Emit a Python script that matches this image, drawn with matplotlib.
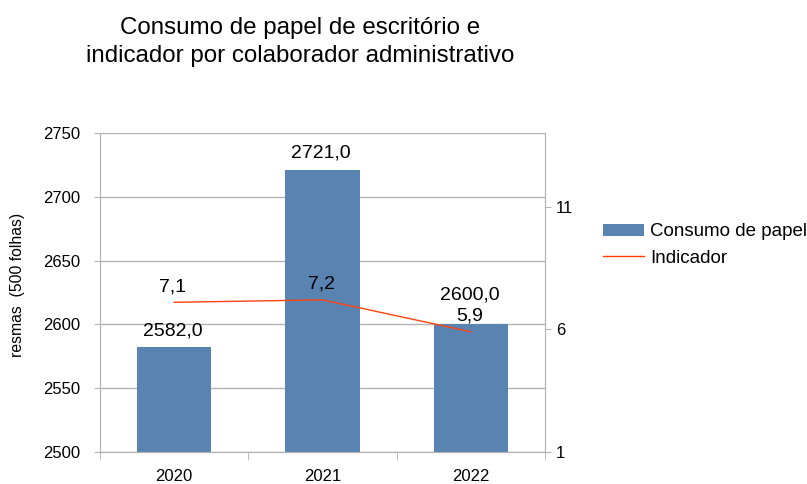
import matplotlib
matplotlib.use("Agg")
import matplotlib.pyplot as plt
import numpy as np

plt.rcParams['font.family'] = ['Liberation Sans', 'DejaVu Sans']

anos = ['2020', '2021', '2022']
consumo = [2582.0, 2721.0, 2600.0]
indicador = [7.1, 7.2, 5.9]

cor_barra = '#5983b0'
cor_linha = '#ff420e'
cinza = '#b3b3b3'

fig = plt.figure(figsize=(8.07, 4.84), dpi=100)
ax = fig.add_axes([100 / 807, 1 - 452 / 484, 445 / 807, 319 / 484])
x = np.arange(len(anos))

ax.bar(x, consumo, width=0.5, color=cor_barra, zorder=2, label='Consumo de papel')
ax.set_xlim(-0.5, 2.5)
ax.set_ylim(2500, 2750)
ax.set_yticks(np.arange(2500, 2751, 50))
ax.yaxis.grid(True, color=cinza, linewidth=1, zorder=0)
ax.set_xticks(x)
ax.set_xticklabels(anos)
ax.set_xticks([-0.5, 0.5, 1.5, 2.5], minor=True)
ax.tick_params(axis='x', which='major', length=0, labelsize=12, pad=12.5)
ax.tick_params(axis='x', which='minor', length=6, color=cinza)
ax.tick_params(axis='y', length=4.3, color=cinza, labelsize=12, pad=10)
for s in ['left', 'bottom', 'right']:
    ax.spines[s].set_color(cinza)
ax.spines['top'].set_visible(False)
fig.text(18 / 807, 1 - 285 / 484, 'resmas  (500 folhas)', rotation=90,
         ha='center', va='center', fontsize=11.3)

# deslocamento dos rótulos das barras (pontos)
desloc_barra = [6, 6, 15]
for xi, v, d in zip(x, consumo, desloc_barra):
    ax.annotate(f'{v:.1f}'.replace('.', ','), (xi, v), xytext=(-1, d),
                textcoords='offset points', ha='center', va='bottom', fontsize=14)

ax2 = ax.twinx()
ax2.plot(x, indicador, color=cor_linha, linewidth=1, label='Indicador')
ax2.set_ylim(1, 14)
ax2.set_yticks([1, 6, 11])
ax2.tick_params(axis='y', length=4.3, color=cinza, labelsize=12, pad=3.6)
for s in ['left', 'bottom', 'right']:
    ax2.spines[s].set_color(cinza)
ax2.spines['top'].set_visible(False)

for xi, v in zip(x, indicador):
    ax2.annotate(f'{v:.1f}'.replace('.', ','), (xi, v), xytext=(-1, 5),
                 textcoords='offset points', ha='center', va='bottom', fontsize=14)

fig.text(300 / 807, 1 - 42 / 484, 'Consumo de papel de escritório e\nindicador por colaborador administrativo',
         ha='center', va='center', fontsize=17.4, linespacing=1.4)

h1, l1 = ax.get_legend_handles_labels()
h2, l2 = ax2.get_legend_handles_labels()
fig.legend(h1 + h2, l1 + l2, loc='center left', bbox_to_anchor=(603 / 807, 1 - 245 / 484),
           frameon=False, fontsize=13.5, handlelength=2.2, handleheight=0.6, labelspacing=0.5,
           borderaxespad=0, borderpad=0, handletextpad=0.3)

fig.savefig('out.png', dpi=100)
